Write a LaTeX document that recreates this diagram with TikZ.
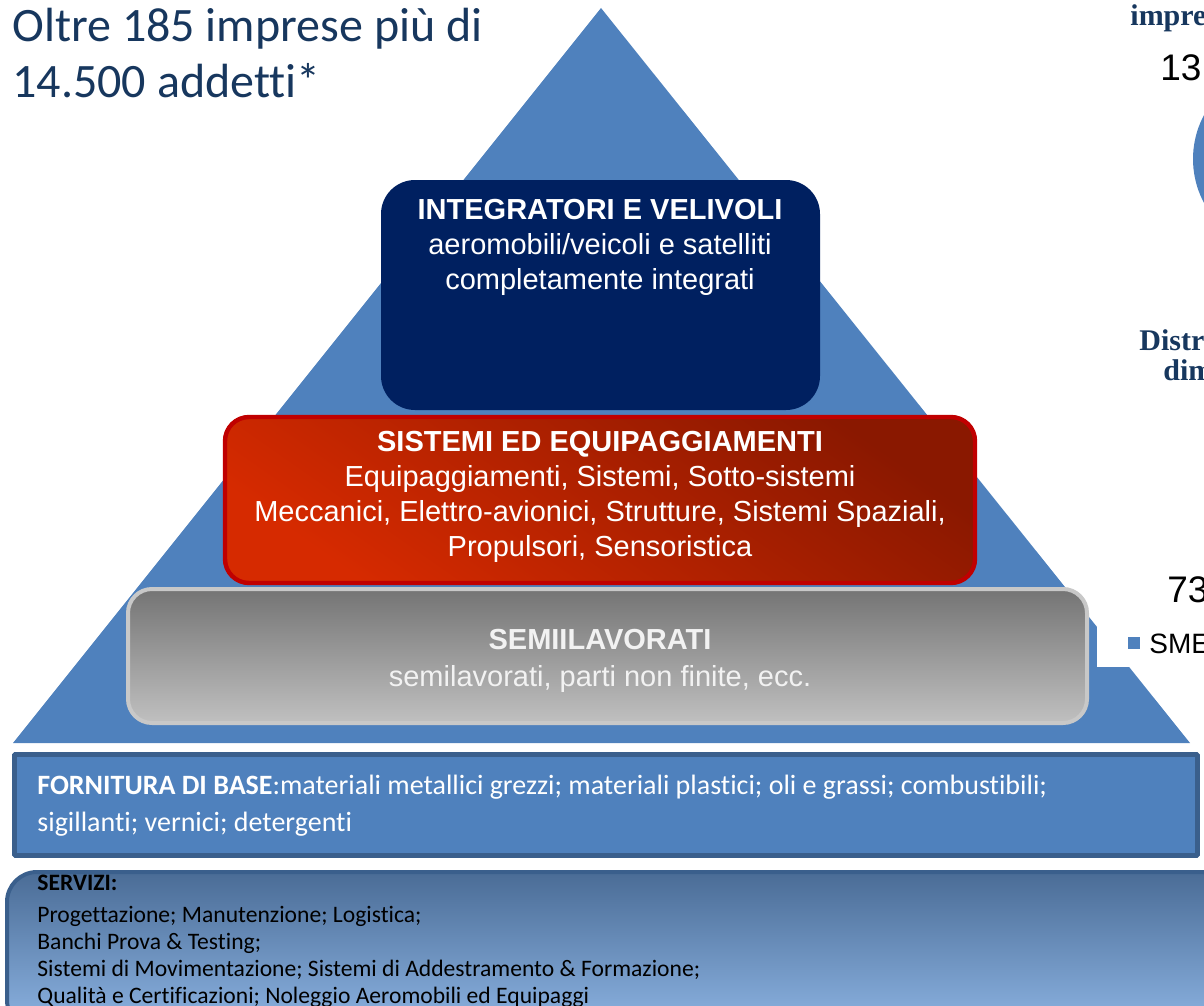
\documentclass[tikz,border=0pt]{standalone}
\usepackage{fontspec}
\setmainfont{Liberation Sans}
\newfontfamily\calibri[Ligatures={NoCommon}]{Carlito}
\newfontfamily\chartserif{Liberation Serif}
\definecolor{pyrblue}{RGB}{79,129,189}
\definecolor{navybox}{RGB}{0,32,96}
\definecolor{titleblue}{RGB}{23,55,94}
\definecolor{redrim}{RGB}{192,0,0}
\definecolor{redlight}{RGB}{214,42,0}
\definecolor{reddark}{RGB}{138,24,0}
\definecolor{grayrim}{RGB}{200,200,200}
\definecolor{graytop}{RGB}{116,116,116}
\definecolor{graybot}{RGB}{192,192,192}
\definecolor{semitext}{RGB}{242,242,242}
\definecolor{baserim}{RGB}{58,95,140}
\definecolor{servtop}{RGB}{74,108,150}
\definecolor{servbot}{RGB}{141,180,227}
\begin{document}
\begin{tikzpicture}[x=0.5pt,y=-0.5pt,line join=bevel,
  tierbox/.style={inner sep=0pt,rounded corners=12pt},
  tiertext/.style={text=white,align=center,inner sep=0pt,font=\fontsize{14.5}{17.5}\selectfont},
  chartnum/.style={inner sep=0pt,anchor=west,font=\fontsize{18.5}{20}\selectfont},
  charthead/.style={inner sep=0pt,anchor=west,text=titleblue,font=\chartserif\bfseries\fontsize{15}{16}\selectfont}]
\useasboundingbox (0,0) rectangle (1204,1006);
\clip (0,0) rectangle (1204,1006);
%%
\coordinate (apex) at (601,8);
\coordinate (baseL) at (13,743);
\coordinate (baseR) at (1190,743);
\fill [pyrblue] (apex) -- (baseR) -- (baseL) -- cycle;
%% piece of the chart beside the pyramid
\fill [white] (1097,0) rectangle (1204,667);
\fill [pyrblue] (1286,159) circle [radius=93];
\node (chart_head) at (1130,18) [charthead] {impre};
\node (chart_top) at (1160,68) [chartnum] {13};
\node (chart_title) at (1139,340) [charthead] {Distr};
\node (chart_sub) at (1163,370) [charthead] {dim};
\node (chart_low) at (1167,590) [chartnum] {73};
\node (chart_key) at (1134,643) [fill=pyrblue,inner sep=0pt,minimum size=6pt] {};
\node (chart_sme) at (1149,644) [inner sep=0pt,anchor=west,font=\fontsize{14}{15}\selectfont] {SME};
%%
\node (title) at (12,8) [anchor=north west,inner sep=0pt,align=left,text=titleblue,
  font=\calibri\fontsize{24}{28}\selectfont] {Oltre 185 imprese più di\\14.500 addetti*};
%%
\node (integratori) at (600.5,295) [tierbox,fill=navybox,rounded corners=17pt,
  minimum width=219.5pt,minimum height=115pt] {};
\node (integratori_txt) at (600,247) [tiertext] {\textbf{INTEGRATORI E VELIVOLI}\\aeromobili/veicoli e satelliti\\completamente integrati};
%
\node (sistemi) at (600,500) [tierbox,draw=redrim,line width=2.2pt,top color=reddark,
  bottom color=redlight,shading angle=-35,minimum width=375pt,minimum height=83pt] {};
\node (sistemi_txt) at (600,497) [tiertext] {\textbf{SISTEMI ED EQUIPAGGIAMENTI}\\Equipaggiamenti, Sistemi, Sotto-sistemi\\Meccanici, Elettro-avionici, Strutture, Sistemi Spaziali,\\Propulsori, Sensoristica};
%
\node (semilavorati) at (607.5,656) [tierbox,draw=grayrim,line width=2pt,top color=graytop,
  bottom color=graybot,minimum width=479.5pt,minimum height=67pt] {};
\node (semilavorati_txt) at (600,661) [tiertext,text=semitext,font=\fontsize{14.5}{18.5}\selectfont] {\textbf{SEMIILAVORATI}\\semilavorati, parti non finite, ecc.};
%%
\node (fornitura) at (606,805) [inner sep=0pt,fill=pyrblue,draw=baserim,line width=2.8pt,
  minimum width=591.5pt,minimum height=50.5pt] {};
\node (fornitura_txt) at (37,806) [anchor=west,inner sep=0pt,align=left,text=white,
  font=\calibri\fontsize{14}{18.5}\selectfont] {\textbf{FORNITURA DI BASE}:materiali metallici grezzi; materiali plastici; oli e grassi; combustibili;\\sigillanti; vernici; detergenti};
%
\node (servizi) at (618.5,951) [inner sep=0pt,draw=baserim,line width=2pt,rounded corners=15pt,
  top color=servtop,bottom color=servbot,minimum width=611.5pt,minimum height=79pt] {};
\node (servizi_txt) at (37,875) [anchor=north west,inner sep=0pt,align=left,text=black,
  font=\calibri\fontsize{11.8}{13.5}\selectfont] {\textbf{SERVIZI:}\\[2.5pt]Progettazione; Manutenzione; Logistica;\\Banchi Prova \& Testing;\\Sistemi di Movimentazione; Sistemi di Addestramento \& Formazione;\\Qualità e Certificazioni; Noleggio Aeromobili ed Equipaggi};
%
\end{tikzpicture}
\end{document}
